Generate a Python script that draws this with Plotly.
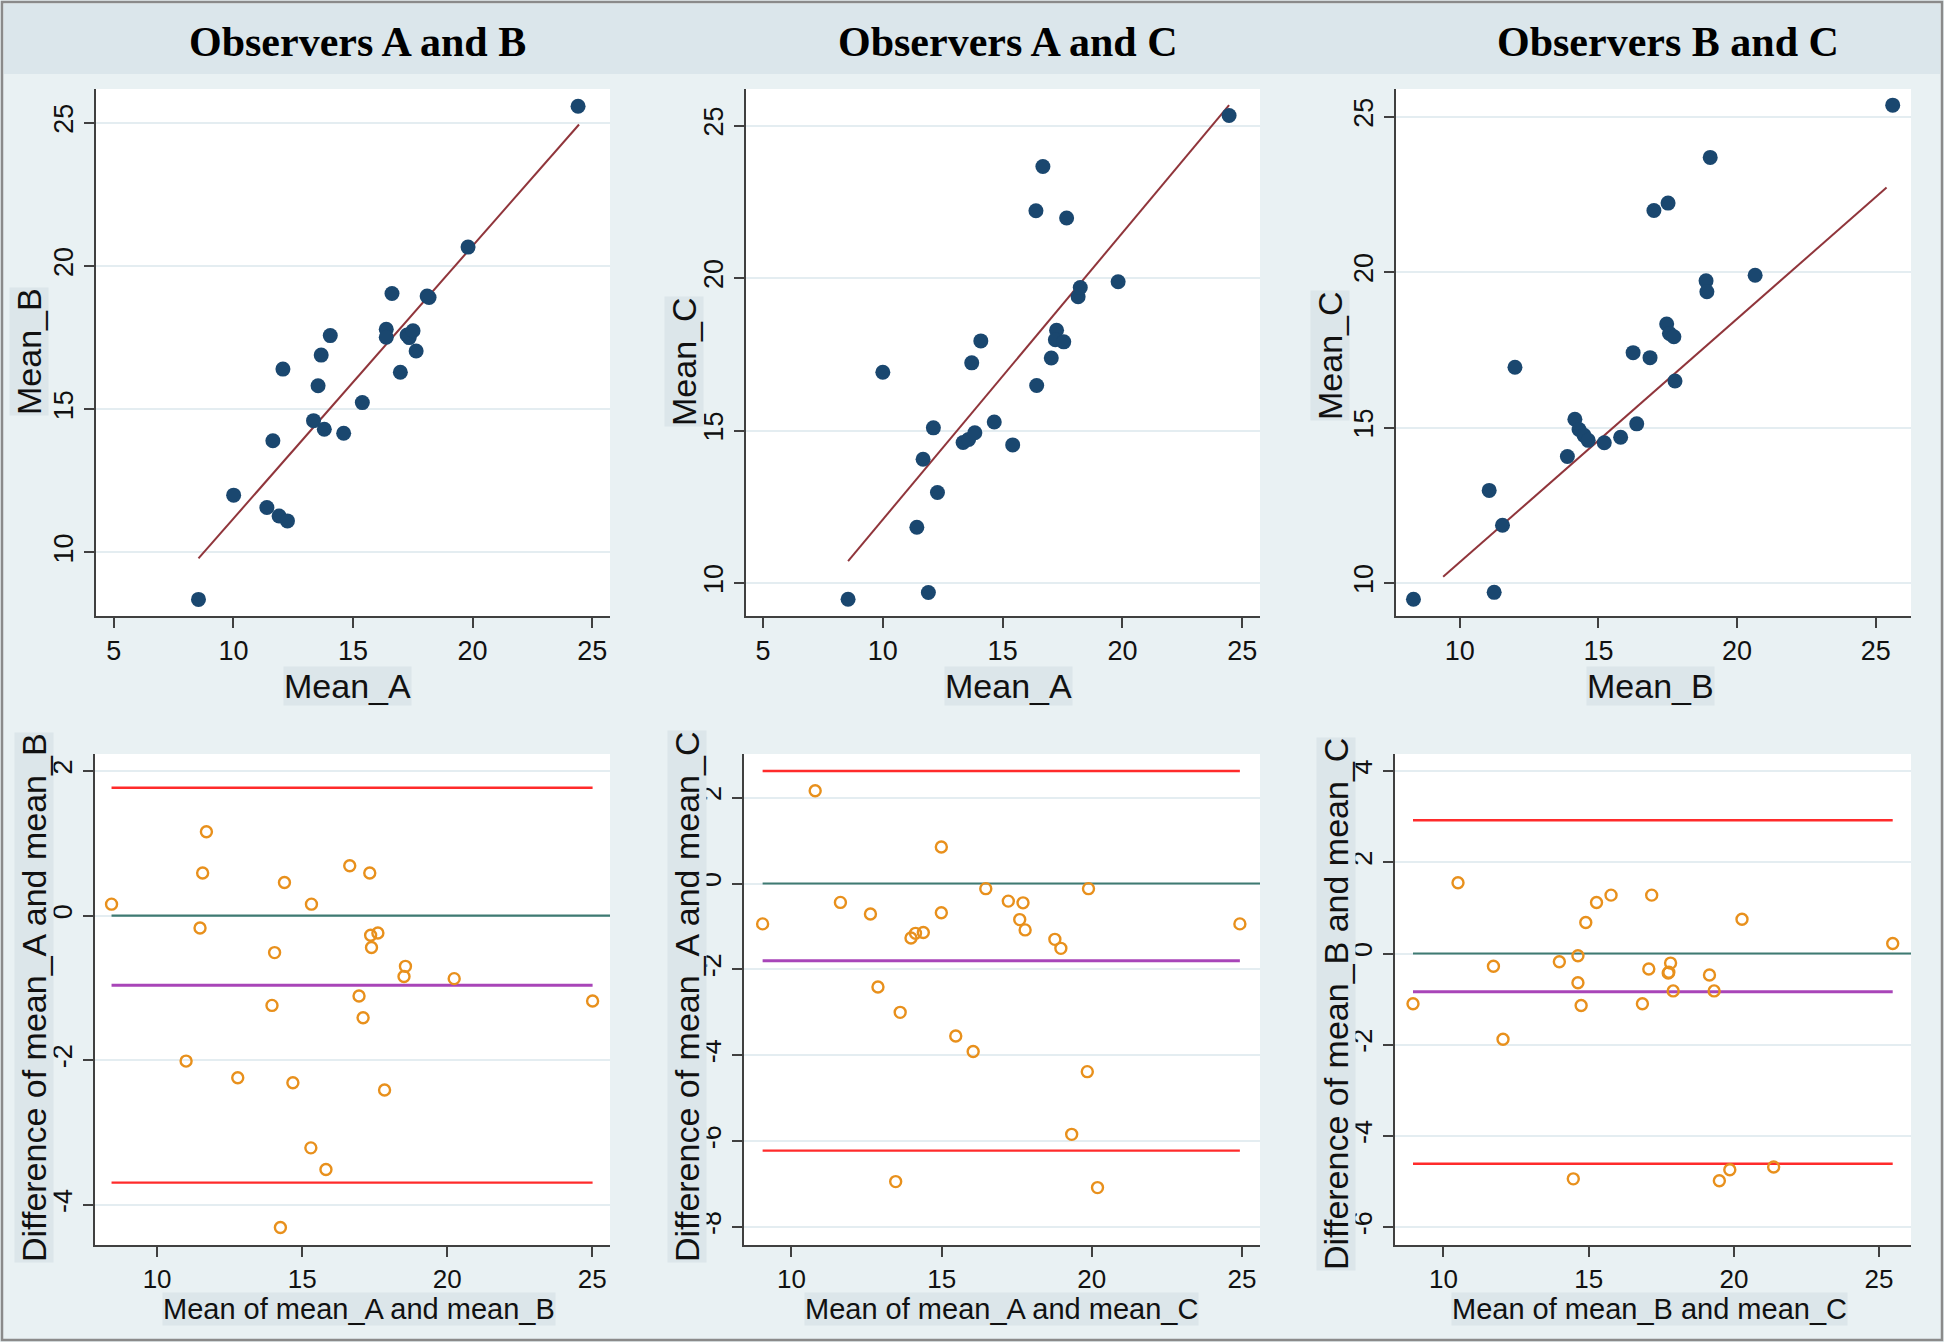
import plotly.graph_objects as go

W, H = 1944, 1342

# ---------------- data ----------------
titles = ["Observers A and B", "Observers A and C", "Observers B and C"]

# Panel 1: Mean_A vs Mean_B
p1_x = [8.54, 10.01, 11.40, 11.65, 11.91, 12.07, 12.26, 13.35, 13.54, 13.67, 13.80, 14.05, 14.61,
        15.39, 16.39, 16.39, 16.63, 16.98, 17.26, 17.35, 17.51, 17.64, 18.10, 18.18, 19.81, 24.41]
p1_y = [8.36, 12.00, 11.57, 13.90, 11.27, 16.40, 11.10, 14.60, 15.82, 16.89, 14.30, 17.57, 14.16,
        15.23, 17.79, 17.51, 19.04, 16.29, 17.59, 17.50, 17.74, 17.03, 18.95, 18.90, 20.66, 25.58]
p1_fit_x = [8.54, 24.45]
p1_fit_y = [9.79, 24.94]

# Panel 2: Mean_A vs Mean_C
p2_x = [8.55, 10.00, 11.42, 11.68, 11.90, 12.11, 12.28, 13.35, 13.58, 13.84, 13.71, 14.09, 14.65,
        15.42, 16.42, 16.39, 16.68, 17.03, 17.25, 17.20, 17.55, 17.67, 18.15, 18.24, 19.82, 24.45]
p2_y = [9.47, 16.91, 11.83, 14.06, 9.69, 15.09, 12.97, 14.61, 14.71, 14.93, 17.22, 17.94, 15.28,
        14.53, 16.48, 22.21, 23.66, 17.38, 18.29, 17.98, 17.91, 21.97, 19.39, 19.69, 19.88, 25.33]
p2_fit_x = [8.55, 24.45]
p2_fit_y = [10.72, 25.67]

# Panel 3: Mean_B vs Mean_C
p3_x = [8.33, 11.06, 11.24, 11.54, 11.99, 13.88, 14.15, 14.30, 14.48, 14.63, 15.21, 15.80, 16.25,
        16.38, 16.86, 17.00, 17.51, 17.46, 17.56, 17.72, 17.76, 18.88, 18.91, 19.03, 20.65, 25.61]
p3_y = [9.48, 12.98, 9.70, 11.86, 16.94, 14.07, 15.27, 14.94, 14.75, 14.59, 14.51, 14.69, 17.41,
        15.12, 17.25, 21.98, 22.22, 18.33, 18.03, 17.92, 16.50, 19.72, 19.37, 23.69, 19.90, 25.37]
p3_fit_x = [9.40, 25.39]
p3_fit_y = [10.20, 22.72]

# Panel 4: Bland-Altman A vs B
p4_x = [8.43, 11.00, 11.48, 11.57, 11.70, 12.78, 13.96, 14.05, 14.25, 14.39, 14.68, 15.30, 15.32,
        15.82, 16.64, 16.96, 17.10, 17.33, 17.36, 17.39, 17.61, 17.84, 18.56, 18.51, 20.24, 25.01]
p4_y = [0.16, -2.01, -0.17, 0.59, 1.16, -2.24, -1.24, -0.51, -4.31, 0.46, -2.31, -3.21, 0.16,
        -3.51, 0.69, -1.11, -1.41, 0.59, -0.27, -0.44, -0.24, -2.41, -0.70, -0.84, -0.87, -1.18]
p4_span = [8.43, 25.01]
p4_levels = [1.77, 0.0, -0.96, -3.69]   # upper limit, zero, mean difference, lower limit

# Panel 5: Bland-Altman A vs C
p5_x = [9.04, 10.79, 11.63, 12.63, 12.88, 13.47, 13.62, 13.98, 14.13, 14.39, 14.99, 14.99, 15.47,
        16.05, 16.47, 17.22, 17.60, 17.71, 17.78, 18.77, 18.97, 19.33, 19.85, 19.89, 20.19, 24.93]
p5_y = [-0.94, 2.16, -0.44, -0.71, -2.41, -6.94, -3.00, -1.27, -1.16, -1.14, 0.85, -0.68, -3.55,
        -3.91, -0.12, -0.41, -0.84, -0.45, -1.08, -1.30, -1.51, -5.84, -4.38, -0.12, -7.08, -0.94]
p5_span = [9.04, 24.93]
p5_levels = [2.62, 0.0, -1.80, -6.22]

# Panel 6: Bland-Altman B vs C
p6_x = [8.95, 10.50, 11.72, 12.05, 13.99, 14.47, 14.63, 14.63, 14.74, 14.90, 15.27, 15.77, 16.85,
        17.07, 17.17, 17.74, 17.76, 17.82, 17.91, 19.16, 19.32, 19.50, 19.86, 20.28, 21.37, 25.47]
p6_y = [-1.10, 1.55, -0.28, -1.88, -0.18, -4.94, -0.05, -0.64, -1.14, 0.68, 1.12, 1.28, -1.10,
        -0.34, 1.28, -0.43, -0.41, -0.21, -0.82, -0.47, -0.82, -4.98, -4.74, 0.75, -4.68, 0.22]
p6_span = [8.95, 25.47]
p6_levels = [2.92, 0.0, -0.84, -4.61]

x_titles = ["Mean_A", "Mean_A", "Mean_B",
            "Mean of mean_A and mean_B", "Mean of mean_A and mean_C", "Mean of mean_B and mean_C"]
y_titles = ["Mean_B", "Mean_C", "Mean_C",
            "Difference of mean_A and mean_B", "Difference of mean_A and mean_C",
            "Difference of mean_B and mean_C"]

x_ticks = [[5, 10, 15, 20, 25], [5, 10, 15, 20, 25], [10, 15, 20, 25],
           [10, 15, 20, 25], [10, 15, 20, 25], [10, 15, 20, 25]]
y_ticks = [[10, 15, 20, 25], [10, 15, 20, 25], [10, 15, 20, 25],
           [-4, -2, 0, 2], [-8, -6, -4, -2, 0, 2], [-6, -4, -2, 0, 2, 4]]

# ---------------- styling / layout ----------------
NAVY = "#1a476f"
MAROON = "#90353b"
ORANGE = "#e8901c"
RED = "#ff2b2b"
TEAL = "#3f7a72"
PURPLE = "#a845b8"
BG = "#e9f1f3"
BAND = "#dbe6eb"
AXIS = "#404040"
GRID = "#e4edf1"
SANS = "Liberation Sans, Arial, sans-serif"
SERIF = "Liberation Serif, Times New Roman, serif"

# pixel frames of each plot region: (left, right, top, bottom)
frames = [
    (96, 610, 89, 616), (746, 1260, 89, 616), (1396, 1911, 89, 616),
    (95, 610, 754, 1245), (744, 1260, 754, 1245), (1395, 1911, 754, 1245),
]
x_ranges = [[4.255, 25.745], [4.29, 25.74], [7.70, 26.27],
            [7.86, 25.61], [8.42, 25.6], [8.33, 26.1]]
y_ranges = [[7.78, 26.18], [8.92, 26.2], [8.94, 25.89],
            [-4.553, 2.236], [-8.416, 3.015], [-6.39, 4.374]]

fig = go.Figure()


def ax(i):
    return ("x" if i == 0 else f"x{i+1}"), ("y" if i == 0 else f"y{i+1}")


scatter_sets = [(p1_x, p1_y, p1_fit_x, p1_fit_y), (p2_x, p2_y, p2_fit_x, p2_fit_y),
                (p3_x, p3_y, p3_fit_x, p3_fit_y)]
for i, (sx, sy, fx_, fy_) in enumerate(scatter_sets):
    xa, ya = ax(i)
    fig.add_trace(go.Scatter(x=fx_, y=fy_, mode="lines", line=dict(color=MAROON, width=2),
                             xaxis=xa, yaxis=ya, showlegend=False, hoverinfo="skip"))
    fig.add_trace(go.Scatter(x=sx, y=sy, mode="markers",
                             marker=dict(color=NAVY, size=15, line=dict(width=0)),
                             xaxis=xa, yaxis=ya, showlegend=False))

ba_sets = [(p4_x, p4_y, p4_span, p4_levels), (p5_x, p5_y, p5_span, p5_levels),
           (p6_x, p6_y, p6_span, p6_levels)]
for j, (bx, by, span, lv) in enumerate(ba_sets):
    xa, ya = ax(j + 3)
    colors = [RED, TEAL, PURPLE, RED]
    widths = [2.4, 2.2, 3.0, 2.4]
    for k, level in enumerate(lv):
        xs = span if k != 1 else [span[0], x_ranges[j + 3][1]]
        fig.add_trace(go.Scatter(x=xs, y=[level, level], mode="lines",
                                 line=dict(color=colors[k], width=widths[k]),
                                 xaxis=xa, yaxis=ya, showlegend=False, hoverinfo="skip"))
    fig.add_trace(go.Scatter(x=bx, y=by, mode="markers",
                             marker=dict(symbol="circle-open", color=ORANGE, size=11,
                                         line=dict(width=2.4, color=ORANGE)),
                             xaxis=xa, yaxis=ya, showlegend=False))

layout = dict(
    width=W, height=H, margin=dict(l=0, r=0, t=0, b=0),
    paper_bgcolor=BG, plot_bgcolor="white", showlegend=False,
    font=dict(family=SANS, size=26, color="#111111"),
)

for i, (l, r, t, b) in enumerate(frames):
    key = "" if i == 0 else str(i + 1)
    xa, ya = ax(i)
    fsize = 27 if i < 3 else 26
    layout["xaxis" + key] = dict(
        domain=[l / W, r / W], range=x_ranges[i], anchor=ya,
        tickvals=x_ticks[i], ticktext=[str(v) for v in x_ticks[i]],
        showgrid=False, zeroline=False, showline=True, linecolor=AXIS, linewidth=1.6,
        ticks="outside", ticklen=10, tickwidth=1.5, tickcolor=AXIS,
        tickfont=dict(family=SANS, size=fsize, color="#111111"), ticklabelstandoff=0,
    )
    layout["yaxis" + key] = dict(
        domain=[1 - b / H, 1 - t / H], range=y_ranges[i], anchor=xa,
        tickvals=y_ticks[i], ticktext=[str(v) for v in y_ticks[i]],
        showgrid=True, gridcolor=GRID, gridwidth=1.5, zeroline=False,
        showline=True, linecolor=AXIS, linewidth=1.6,
        ticks="outside", ticklen=10, tickwidth=1.5, tickcolor=AXIS, tickangle=-90,
        tickfont=dict(family=SANS, size=27, color="#111111"), ticklabelstandoff=0,
    )

fig.update_layout(**layout)

# title band and outer frame
shapes = [
    dict(type="rect", xref="paper", yref="paper", x0=4 / W, x1=1 - 4 / W,
         y0=1 - 74 / H, y1=1 - 4 / H, fillcolor=BAND, line=dict(width=0), layer="below"),
    dict(type="rect", xref="paper", yref="paper", x0=2 / W, x1=1 - 2 / W,
         y0=2 / H, y1=1 - 2 / H, fillcolor="rgba(0,0,0,0)", line=dict(color="#8a8a8a", width=2.5)),
]
fig.update_layout(shapes=shapes)

annotations = []
title_cx = [357, 1008, 1668]
for k, txt in enumerate(titles):
    annotations.append(dict(text=f"<b>{txt}</b>", xref="paper", yref="paper",
                            x=title_cx[k] / W, y=1 - 42 / H, xanchor="center", yanchor="middle",
                            showarrow=False, font=dict(family=SERIF, size=42, color="#000000")))

# axis titles (with their light background boxes)
xt_pos = [(347, 686), (1008, 686), (1650, 686), (359, 1309), (1002, 1309), (1649, 1309)]
yt_pos = [(29, 352), (684, 362), (1330, 356), (34, 998), (687, 997), (1336, 1004)]
xt_size = [34, 34, 34, 29, 29, 29]
for i in range(6):
    cx, cy = xt_pos[i]
    annotations.append(dict(text=x_titles[i], xref="paper", yref="paper", x=cx / W, y=1 - cy / H,
                            xanchor="center", yanchor="middle", showarrow=False,
                            bgcolor="#dce6ea", borderpad=0,
                            font=dict(family=SANS, size=xt_size[i], color="#111111")))
    cx, cy = yt_pos[i]
    annotations.append(dict(text=y_titles[i], xref="paper", yref="paper", x=cx / W, y=1 - cy / H,
                            xanchor="center", yanchor="middle", showarrow=False, textangle=-90,
                            bgcolor="#dce6ea", borderpad=0,
                            font=dict(family=SANS, size=34, color="#111111")))
fig.update_layout(annotations=annotations)

fig.write_html("out.html", config={"displayModeBar": False},
               post_script="document.body.style.margin='0';document.body.style.overflow='hidden';")
